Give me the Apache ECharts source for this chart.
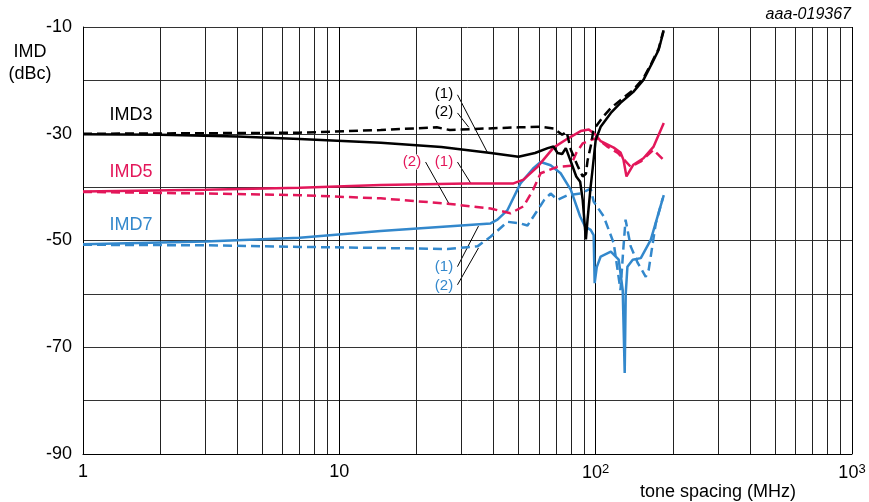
<!DOCTYPE html>
<html><head><meta charset="utf-8">
<script src="https://cdn.jsdelivr.net/npm/echarts@6/dist/echarts.min.js"></script>
<style>html,body{margin:0;padding:0;background:#fff}#c{width:869px;height:502px}</style>
</head><body><div id="c"></div>
<script>
// tick definitions
const xTicks = [1, 10, 100, 1000];
const xTickLabels = ['1', '10', '10{s|2}', '10{s|3}'];
const yLabelValues = [-90, -70, -50, -30, -10];
const minorX = [2,3,4,5,6,7,8,9,20,30,40,50,60,70,80,90,200,300,400,500,600,700,800,900];

// IMD3 (1) solid, (2) dashed
const imd3_1 = [[1,-30.1],[2,-30.2],[4,-30.5],[7,-31],[14.5,-31.7],[25,-32.5],[39,-33.6],[50,-34.3],[58,-33.6],[65,-32.7],[68.5,-32.4],[71,-33.6],[74,-33.8],[76.5,-32.7],[80,-35.2],[84,-38],[87,-39],[89,-42.4],[91.6,-49.8],[93,-46],[95.6,-39.9],[97.5,-36.2],[100,-31.2],[104.6,-28.7],[114.6,-26.1],[125,-24.2],[140,-22.2],[153.6,-19.9],[165,-17],[176,-14.3],[184,-10.8]];
const imd3_2 = [[1,-30],[3,-29.9],[7,-29.8],[14.5,-29.3],[24,-28.8],[27,-29.3],[38,-29],[50,-28.8],[61,-28.7],[68.5,-29],[74,-30.2],[77,-29.6],[80,-33],[85,-36],[89,-38],[91.6,-37.5],[93,-35],[96,-32],[98,-29.3],[107,-26.8],[114.6,-25.2],[125,-23.7],[140,-21.8],[153.6,-19.6],[165,-16.8],[176,-14.1],[184,-10.6]];

// IMD5
const imd5_1 = [[1,-40.8],[3,-40.5],[7,-40.1],[14.5,-39.6],[31.6,-39.3],[47.8,-39.3],[52.3,-38.6],[59.3,-36.2],[68.5,-32.6],[77.8,-30.9],[87.4,-29.5],[94,-29.2],[100,-30.2],[104.6,-31.4],[117.6,-32.6],[125,-33.5],[128.4,-34.9],[131.9,-38],[140.3,-35.8],[153.6,-34.6],[168.3,-32.4],[184.4,-28]];
const imd5_2 = [[1,-40.9],[3,-41.2],[7,-41.5],[14.5,-42.1],[26.4,-43.1],[38.9,-44],[46.5,-44.9],[52.3,-43.6],[57,-40.5],[61,-37.4],[71,-36.2],[80,-36],[84,-33.6],[89,-31.8],[95.6,-31.2],[101,-30.8],[111,-32.4],[122,-33.6],[137,-36.2],[150,-35.2],[168,-33],[184,-34.9]];

// IMD7
const imd7_1 = [[1,-50.7],[3,-50.2],[7,-49.5],[14.5,-48.2],[38.9,-46.8],[41.4,-46.1],[45.3,-44.3],[50.9,-39.3],[57,-36.5],[61,-35.3],[66.7,-35.9],[73,-37.4],[80,-40.5],[87,-45.5],[91,-47.4],[95.6,-48],[98.2,-49],[99.1,-58],[101,-55],[104.6,-53],[114.6,-52.1],[123,-53.6],[127.5,-59.3],[129.8,-74.8],[131,-60],[133,-54.9],[139.5,-53.6],[150,-53.3],[164,-49.9],[175.8,-44.9],[184.4,-41.5]];
const imd7_2 = [[1,-50.8],[3,-50.9],[7,-51.2],[14.5,-51.4],[26.4,-51.6],[34.6,-51.1],[38.9,-49.3],[45.3,-46.5],[50.9,-46.8],[54.2,-47.2],[59,-44.5],[63,-42.4],[66.7,-41.2],[71,-42.4],[77.8,-41.5],[87.4,-41.2],[95.6,-40.3],[98.2,-42.7],[107.5,-45.5],[117.6,-50.5],[125,-59.3],[128,-52],[130.8,-46.1],[137,-51.1],[145.9,-54.2],[156.8,-56.8],[161,-55.5],[171.6,-46.8],[182.6,-42.1]];

// leader lines for (1)/(2) annotations
const leaders = [
  [[28.9,-22.7],[37.9,-33.6]],
  [[28.9,-26.1],[32,-28.8]],
  [[28.9,-35.3],[32.5,-39.2]],
  [[21.7,-35.3],[26.7,-43]],
  [[28.9,-54.9],[34.9,-47.3]],
  [[28.9,-58.3],[34.9,-51.4]]
];

const BLACK = '#000000', RED = '#e3175a', BLUE = '#3388cc';
const FONT = '"Liberation Sans", Arial, sans-serif';

function mk(data, color, dashed) {
  return {
    type: 'line', data: data, showSymbol: false, symbol: 'none', silent: true,
    lineStyle: { color: color, width: 2.5, type: dashed ? [9, 5] : 'solid' },
    z: 5
  };
}

const series = [
  {
    type: 'line', data: [[1, -90]], showSymbol: false, symbol: 'none', silent: true,
    lineStyle: { width: 0 },
    markLine: {
      silent: true, symbol: 'none', animation: false, label: { show: false },
      lineStyle: { color: '#222', width: 1, type: 'solid' },
      data: minorX.map(v => ({ xAxis: v }))
    },
    z: 1
  },
  mk(imd7_2, BLUE, true), mk(imd7_1, BLUE, false),
  mk(imd5_2, RED, true), mk(imd5_1, RED, false),
  mk(imd3_2, BLACK, true), mk(imd3_1, BLACK, false)
];
leaders.forEach(l => series.push({
  type: 'line', data: l, showSymbol: false, symbol: 'none', silent: true,
  lineStyle: { color: '#000', width: 1 }, z: 3
}));

function txt(x, y, s, color, size, extra) {
  return Object.assign({
    type: 'text', x: x, y: y, z: 100,
    style: Object.assign({ text: s, fill: color, font: size + 'px ' + FONT, align: 'center', verticalAlign: 'middle' }, extra || {})
  });
}

const chart = echarts.init(document.getElementById('c'), null, { renderer: 'canvas' });
chart.setOption({
  animation: false,
  backgroundColor: '#fff',
  grid: { left: 83, right: 17, top: 27, bottom: 48, containLabel: false },
  xAxis: {
    type: 'log', logBase: 10, min: 1, max: 1000,
    axisLine: { show: true, lineStyle: { color: '#000', width: 1 } },
    axisTick: { show: false },
    splitLine: { show: true, lineStyle: { color: '#000', width: 1 } },
    axisLabel: {
      margin: 9, color: '#000', fontSize: 18, fontFamily: FONT,
      formatter: function (v) {
        const i = xTicks.indexOf(Math.round(v));
        return i >= 0 ? xTickLabels[i] : '';
      },
      rich: { s: { fontSize: 13, fontFamily: FONT, color: '#000', verticalAlign: 'top', padding: [0, 0, 8, 0] } }
    }
  },
  yAxis: {
    type: 'value', min: -90, max: -10, interval: 10,
    axisLine: { show: true, lineStyle: { color: '#000', width: 1 } },
    axisTick: { show: false },
    splitLine: { show: true, lineStyle: { color: '#333', width: 1 } },
    axisLabel: {
      margin: 11, color: '#000', fontSize: 18, fontFamily: FONT,
      formatter: function (v) { return yLabelValues.indexOf(Math.round(v)) >= 0 ? String(v) : ''; }
    }
  },
  series: series,
  graphic: [
    txt(30, 52, 'IMD', '#000', 18),
    txt(30, 74, '(dBc)', '#000', 18),
    txt(131, 115, 'IMD3', BLACK, 18),
    txt(131, 172, 'IMD5', RED, 18),
    txt(131, 225, 'IMD7', BLUE, 18),
    txt(851, 15, 'aaa-019367', '#000', 16, { align: 'right', font: 'italic 16px ' + FONT }),
    txt(718, 492, 'tone spacing (MHz)', '#000', 18),
    txt(444, 94, '(1)', BLACK, 15, { backgroundColor: '#fff', padding: [0, 1] }),
    txt(444, 112, '(2)', BLACK, 15, { backgroundColor: '#fff', padding: [0, 1] }),
    txt(412, 162, '(2)', RED, 15, { backgroundColor: '#fff', padding: [0, 1] }),
    txt(444, 162, '(1)', RED, 15, { backgroundColor: '#fff', padding: [0, 1] }),
    txt(444, 267, '(1)', BLUE, 15, { backgroundColor: '#fff', padding: [0, 1] }),
    txt(444, 286, '(2)', BLUE, 15, { backgroundColor: '#fff', padding: [0, 1] })
  ]
});
</script></body></html>
